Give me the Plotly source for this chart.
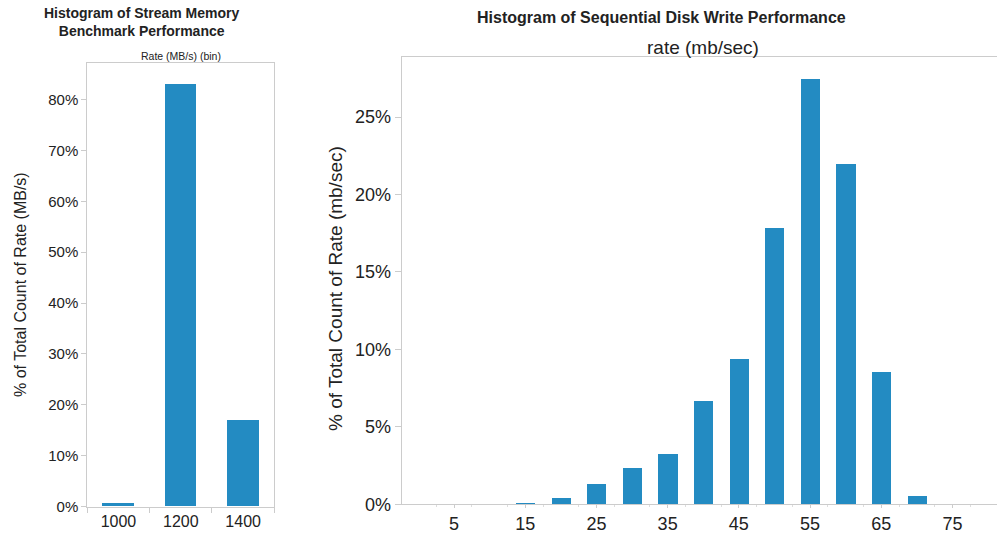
import plotly.graph_objects as go

# ---- data ----
mem_bins = ["1000", "1200", "1400"]
mem_pct = [0.7, 83.0, 16.9]

disk_bins = [15, 20, 25, 30, 35, 40, 45, 50, 55, 60, 65, 70]
disk_pct = [0.08, 0.41, 1.32, 2.36, 3.27, 6.7, 9.37, 17.83, 27.5, 22.02, 8.54, 0.54]

mem_yticks = [0, 10, 20, 30, 40, 50, 60, 70, 80]
mem_ytext = ["0%", "10%", "20%", "30%", "40%", "50%", "60%", "70%", "80%"]
disk_yticks = [0, 5, 10, 15, 20, 25]
disk_ytext = ["0%", "5%", "10%", "15%", "20%", "25%"]
disk_xticks = [5, 15, 25, 35, 45, 55, 65, 75]

W, H = 997, 533
BAR = "#238bc2"
FONT = "Liberation Sans, Arial, sans-serif"
LINE = "#cccccc"
TXT = "#222222"


def px(x):
    return x / W


def py(y):
    return 1 - y / H


fig = go.Figure()
fig.add_trace(go.Bar(x=mem_bins, y=mem_pct, width=0.51, marker=dict(color=BAR, line=dict(width=0)),
                     xaxis="x", yaxis="y", showlegend=False, hoverinfo="x+y"))
fig.add_trace(go.Bar(x=disk_bins, y=disk_pct, width=2.7, marker=dict(color=BAR, line=dict(width=0)),
                     xaxis="x2", yaxis="y2", showlegend=False, hoverinfo="x+y"))

common_axis = dict(showgrid=False, zeroline=False, showline=True, linecolor=LINE, linewidth=1,
                   ticks="outside", tickcolor=LINE, automargin=False, fixedrange=True)

fig.update_layout(
    width=W, height=H,
    margin=dict(l=0, r=0, t=0, b=0, pad=0),
    paper_bgcolor="white", plot_bgcolor="white",
    font=dict(family=FONT, color=TXT),
    bargap=0,
    xaxis=dict(common_axis, domain=[px(87.3), px(274.3)], anchor="y", type="category",
               categoryorder="array", categoryarray=mem_bins, range=[-0.5, 2.5],
               tickson="boundaries", ticklen=5, mirror=True,
               tickfont=dict(size=16, color=TXT)),
    yaxis=dict(common_axis, domain=[py(506.7), py(63.3)], anchor="x", range=[0, 87.1],
               tickmode="array", tickvals=mem_yticks, ticktext=mem_ytext, ticklen=5, mirror=True,
               tickfont=dict(size=15, color=TXT)),
    xaxis2=dict(common_axis, domain=[px(401.7), 1.0], anchor="y2", range=[-2.35, 81.26],
                tickmode="array", tickvals=disk_xticks, ticklen=3, mirror=True,
                minor=dict(ticks="outside", ticklen=2, tick0=2.5, dtick=5, tickcolor="#dddddd"),
                tickfont=dict(size=18, color=TXT)),
    yaxis2=dict(common_axis, domain=[py(504.3), py(56.7)], anchor="x2", range=[0, 28.9],
                tickmode="array", tickvals=disk_yticks, ticktext=disk_ytext, ticklen=6, mirror=False,
                tickfont=dict(size=18, color=TXT)),
)

ann = [
    dict(text="<b>Histogram of Stream Memory<br>Benchmark Performance</b>", x=px(141), y=py(22.5),
         font=dict(size=14, color=TXT)),
    dict(text="Rate (MB/s) (bin)", x=px(181), y=py(56.5), font=dict(size=10.5, color=TXT)),
    dict(text="<b>Histogram of Sequential Disk Write Performance</b>", x=px(661), y=py(18),
         font=dict(size=16, color=TXT)),
    dict(text="rate (mb/sec)", x=px(703), y=py(47), font=dict(size=19, color=TXT)),
    dict(text="% of Total Count of Rate (MB/s)", x=px(20), y=py(285), textangle=-90,
         font=dict(size=16, color=TXT)),
    dict(text="% of Total Count of Rate (mb/sec)", x=px(335), y=py(289), textangle=-90,
         font=dict(size=19, color=TXT)),
]
for a in ann:
    fig.add_annotation(xref="paper", yref="paper", xanchor="center", yanchor="middle",
                       showarrow=False, **a)

fig.write_html("out.html", config={"displayModeBar": False},
               post_script="document.body.style.margin='0';document.body.style.overflow='hidden';")
